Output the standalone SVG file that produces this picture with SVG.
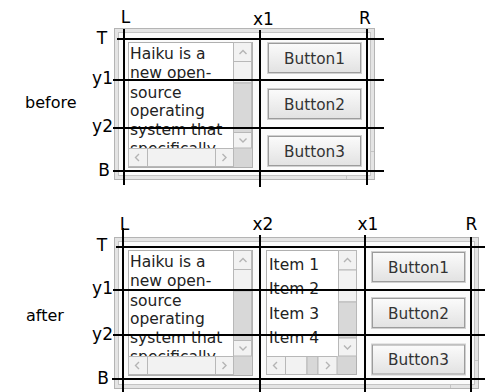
<svg xmlns="http://www.w3.org/2000/svg" xmlns:xlink="http://www.w3.org/1999/xlink" width="485" height="392" viewBox="0 0 485 392">
  <style>
    .ui { font-family: "DejaVu Sans", "Liberation Sans", sans-serif; }
    .body { font-size: 15.5px; fill: #222; }
    .btxt { font-size: 15.3px; fill: #333; text-anchor: middle; }
    .lbl { font-family: "DejaVu Sans", "Liberation Sans", sans-serif; font-size: 17px; fill: #000; }
    .cap { font-family: "DejaVu Sans", "Liberation Sans", sans-serif; font-size: 16px; fill: #000; }
    .guide { stroke: #000; stroke-width: 2; fill: none; }
    .frame-out { fill: #e4e4e4; stroke: #b4b4b4; }
    .frame-in { fill: #fbfbfb; stroke: #c4c4c4; }
    .tick { stroke: #c4c4c4; stroke-width: 1; }
    .sbox { fill: #d6d6d6; stroke: #b0b0b0; }
    .sbtn { fill: #f2f2f2; stroke: #b8b8b8; }
    .trough { fill: #d8d8d8; stroke: #b8b8b8; }
    .arrow { fill: none; stroke: #b4b4b4; stroke-width: 1.4; }
    .bout { fill: none; stroke: #d0d0d0; }
    .bin { fill: url(#btnFill); stroke: #9c9c9c; }
  </style>
  <defs>
    <linearGradient id="btnFill" x1="0" y1="0" x2="0" y2="1">
      <stop offset="0" stop-color="#fbfbfb"/>
      <stop offset="1" stop-color="#e2e2e2"/>
    </linearGradient>
    <clipPath id="textClip"><rect x="1" y="1" width="104" height="105"/></clipPath>
    <clipPath id="listClip"><rect x="1" y="1" width="71" height="105"/></clipPath>

    <!-- scrolling text view, 125 x 126 -->
    <g id="textView">
      <rect class="sbox" x="0.5" y="0.5" width="124" height="125"/>
      <rect x="1" y="1" width="104" height="105" fill="#fff"/>
      <g clip-path="url(#textClip)" class="ui body">
        <text x="2" y="17.3">Haiku is a</text>
        <text x="2" y="36.3">new open-</text>
        <text x="2" y="55.5">source</text>
        <text x="2" y="74.3">operating</text>
        <text x="2" y="93.3">system that</text>
        <text x="2" y="112.3">specifically</text>
      </g>
      <!-- vertical scroll bar -->
      <rect class="sbtn" x="105.5" y="0.5" width="18" height="19"/>
      <rect class="sbtn" x="105.5" y="19.5" width="18" height="21.5"/>
      <rect class="trough" x="105.5" y="41" width="18" height="49.5"/>
      <rect class="sbtn" x="105.5" y="90.5" width="18" height="15.5"/>
      <polyline class="arrow" points="111.5,12 115,8.5 118.5,12"/>
      <polyline class="arrow" points="111.5,96.5 115,100 118.5,96.5"/>
      <!-- horizontal scroll bar -->
      <rect class="sbtn" x="0.5" y="106.5" width="19" height="18"/>
      <rect class="sbtn" x="19.5" y="106.5" width="68" height="18"/>
      <rect class="sbtn" x="87.5" y="106.5" width="18" height="18"/>
      <polyline class="arrow" points="11,112 7.5,115.5 11,119"/>
      <polyline class="arrow" points="94.5,112 98,115.5 94.5,119"/>
    </g>

    <!-- push button, 95 x 32 -->
    <g id="btnShape">
      <rect class="bout" x="0.5" y="0.5" width="94" height="31"/>
      <rect class="bin" x="1.5" y="1.5" width="92" height="29"/>
    </g>
  </defs>

  <!-- ===== before ===== -->
  <text class="cap" x="25" y="108">before</text>

  <g id="window-before">
    <rect class="frame-out" x="114.5" y="28.5" width="260" height="151"/>
    <rect class="frame-in" x="118.5" y="32.5" width="252" height="143"/>
    <line class="tick" x1="346.5" y1="176" x2="346.5" y2="179"/>
    <line class="tick" x1="371" y1="151.5" x2="374" y2="151.5"/>
  </g>

  <g id="textview-before">
    <use xlink:href="#textView" x="128" y="42"/>
  </g>

  <g id="button1-before">
    <use xlink:href="#btnShape" x="267" y="42"/>
    <text class="ui btxt" x="314.5" y="63.5">Button1</text>
  </g>
  <g id="button2-before">
    <use xlink:href="#btnShape" x="267" y="88"/>
    <text class="ui btxt" x="314.5" y="109.5">Button2</text>
  </g>
  <g id="button3-before">
    <use xlink:href="#btnShape" x="267" y="135"/>
    <text class="ui btxt" x="314.5" y="156.5">Button3</text>
  </g>

  <!-- ===== after ===== -->
  <text class="cap" x="26" y="321">after</text>

  <g id="window-after">
    <rect class="frame-out" x="114.5" y="237.5" width="364" height="151"/>
    <rect class="frame-in" x="118.5" y="241.5" width="356" height="143"/>
    <line class="tick" x1="450.5" y1="385" x2="450.5" y2="388"/>
    <line class="tick" x1="475" y1="360.5" x2="478" y2="360.5"/>
  </g>

  <g id="textview-after">
    <use xlink:href="#textView" x="128" y="250"/>
  </g>

  <g id="listview-after" transform="translate(266,250)">
    <rect class="sbox" x="0.5" y="0.5" width="90" height="124"/>
    <rect x="1" y="1" width="71" height="105" fill="#fff"/>
    <g clip-path="url(#listClip)" class="ui body">
      <text x="3" y="20">Item 1</text>
      <text x="3" y="44">Item 2</text>
      <text x="3" y="68.5">Item 3</text>
      <text x="3" y="93">Item 4</text>
    </g>
    <rect class="sbtn" x="72.5" y="0.5" width="18" height="19.5"/>
    <rect class="sbtn" x="72.5" y="20" width="18" height="32"/>
    <rect class="trough" x="72.5" y="52" width="18" height="36"/>
    <rect class="sbtn" x="72.5" y="88" width="18" height="18"/>
    <polyline class="arrow" points="78,12 81.5,8.5 85,12"/>
    <polyline class="arrow" points="78,95.5 81.5,99 85,95.5"/>
    <rect class="sbtn" x="0.5" y="106.5" width="19" height="18"/>
    <rect class="sbtn" x="19.5" y="106.5" width="21.5" height="18"/>
    <rect class="trough" x="41" y="106.5" width="11" height="18"/>
    <rect class="sbtn" x="52" y="106.5" width="19" height="18"/>
    <polyline class="arrow" points="11,112 7.5,115.5 11,119"/>
    <polyline class="arrow" points="60,112 63.5,115.5 60,119"/>
  </g>

  <g id="button1-after">
    <use xlink:href="#btnShape" x="371" y="251"/>
    <text class="ui btxt" x="418.5" y="272.5">Button1</text>
  </g>
  <g id="button2-after">
    <use xlink:href="#btnShape" x="371" y="297"/>
    <text class="ui btxt" x="418.5" y="318.5">Button2</text>
  </g>
  <g id="button3-after">
    <use xlink:href="#btnShape" x="371" y="343.5"/>
    <text class="ui btxt" x="418.5" y="365">Button3</text>
  </g>

  <!-- ===== guide lines ===== -->
  <g id="guides">
    <line class="guide" x1="117" y1="39" x2="384" y2="39"/>
    <line class="guide" x1="113" y1="80" x2="384" y2="80"/>
    <line class="guide" x1="113" y1="128" x2="384" y2="128"/>
    <line class="guide" x1="113" y1="171" x2="384" y2="171"/>
    <line class="guide" x1="124" y1="29" x2="124" y2="185"/>
    <line class="guide" x1="260" y1="30" x2="260" y2="187"/>
    <line class="guide" x1="367" y1="29" x2="367" y2="185"/>

    <line class="guide" x1="116" y1="247" x2="485" y2="247"/>
    <line class="guide" x1="113" y1="290" x2="485" y2="290"/>
    <line class="guide" x1="113" y1="335" x2="485" y2="335"/>
    <line class="guide" x1="112" y1="379" x2="485" y2="379"/>
    <line class="guide" x1="123" y1="228" x2="123" y2="392"/>
    <line class="guide" x1="260" y1="235" x2="260" y2="392"/>
    <line class="guide" x1="365" y1="235" x2="365" y2="392"/>
    <line class="guide" x1="471" y1="237" x2="471" y2="392"/>
  </g>

  <!-- guide labels -->
  <g id="labels" class="lbl">
    <text x="125.5" y="23" text-anchor="middle">L</text>
    <text x="263.5" y="25" text-anchor="middle">x1</text>
    <text x="365" y="24" text-anchor="middle">R</text>
    <text x="102" y="43.5" text-anchor="middle">T</text>
    <text x="113" y="84" text-anchor="end">y1</text>
    <text x="113" y="132" text-anchor="end">y2</text>
    <text x="104" y="176" text-anchor="middle">B</text>

    <text x="124.5" y="229.5" text-anchor="middle">L</text>
    <text x="263" y="229.5" text-anchor="middle">x2</text>
    <text x="368" y="229.5" text-anchor="middle">x1</text>
    <text x="471.5" y="229.5" text-anchor="middle">R</text>
    <text x="102" y="251" text-anchor="middle">T</text>
    <text x="113" y="294" text-anchor="end">y1</text>
    <text x="113" y="339.5" text-anchor="end">y2</text>
    <text x="103" y="383.5" text-anchor="middle">B</text>
  </g>
</svg>
